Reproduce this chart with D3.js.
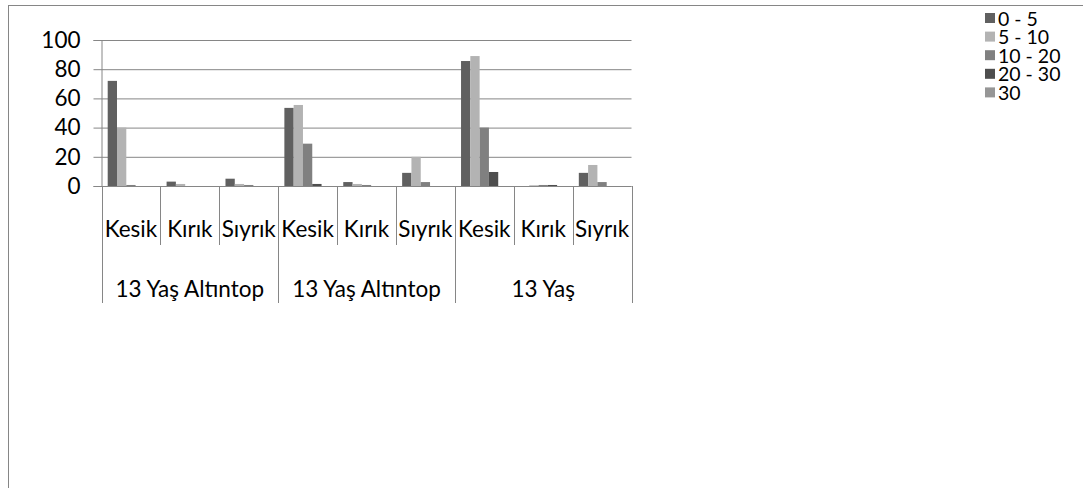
<!DOCTYPE html>
<html>
<head>
<meta charset="utf-8">
<script src="https://cdn.jsdelivr.net/npm/d3@7"></script>
<style>
  html, body { margin: 0; padding: 0; background: #fff; }
  svg { display: block; font-family: Lato, "Liberation Sans", sans-serif; }
</style>
</head>
<body>
<div id="chart"></div>
<script>
// ─── DATA ───
const groups = ["13 Yaş Altıntop", "13 Yaş Altıntop", "13 Yaş"];
const subCategories = ["Kesik", "Kırık", "Sıyrık"];
const seriesNames = ["0 - 5", "5 - 10", "10 - 20", "20 - 30", "30"];
const s0to5   = [72, 3, 5, 53.5, 2.7, 9, 85.6, 0, 9];
const s5to10  = [40, 1.4, 1.4, 55.5, 1.4, 20, 89, 0.5, 14.4];
const s10to20 = [0.7, 0, 0.7, 29, 0.7, 2.7, 40, 0.7, 2.7];
const s20to30 = [0, 0, 0, 1.4, 0, 0, 9.6, 0.7, 0];
const s30     = [0, 0, 0, 0, 0, 0, 0, 0, 0];
const yTicks = [0, 20, 40, 60, 80, 100];

const seriesValues = [s0to5, s5to10, s10to20, s20to30, s30];
const colors = ["#606060", "#b3b3b3", "#808080", "#4e4e4e", "#969696"];

// ─── LAYOUT ───
const width = 1083, height = 488;
const margin = { top: 40, left: 101.5, right: 631.5, bottom: 186 };
const axisColor = "#868686";
const labelSize = 22.5;

const svg = d3.select("#chart").append("svg")
    .attr("width", width)
    .attr("height", height);

// outer chart border (runs off the right/bottom edge)
svg.append("rect")
    .attr("x", 8.5).attr("y", 5.5)
    .attr("width", 1200).attr("height", 600)
    .attr("fill", "none")
    .attr("stroke", axisColor);

// flat list of categories (group x sub)
const cats = [];
groups.forEach((g, gi) => subCategories.forEach((s, si) => cats.push({ g, gi, s, i: gi * 3 + si })));

const x = d3.scaleBand()
    .domain(cats.map(d => d.i))
    .range([margin.left, margin.right])
    .padding(0);

const xs = d3.scaleBand()
    .domain(seriesNames)
    .range([0, x.bandwidth()])
    .paddingInner(0)
    .paddingOuter(0.667);

const y = d3.scaleLinear()
    .domain([0, 100])
    .range([margin.bottom, margin.top]);

// grid + y axis
svg.append("g")
    .attr("transform", `translate(${margin.left},0)`)
    .call(d3.axisLeft(y).tickValues(yTicks).tickSize(8).tickPadding(13))
    .call(g => g.select(".domain").attr("stroke", axisColor))
    .call(g => g.selectAll(".tick line").attr("stroke", axisColor)
        .attr("x2", margin.right - margin.left))
    .call(g => g.selectAll(".tick line").attr("x1", -8))
    .call(g => g.selectAll(".tick text")
        .attr("font-size", labelSize)
        .attr("fill", "#000")
        .attr("font-family", "Lato, sans-serif"));

// bars
seriesNames.forEach((name, si) => {
    svg.append("g").selectAll("rect")
        .data(seriesValues[si].map((v, i) => ({ v, i })).filter(d => d.v > 0))
        .join("rect")
        .attr("x", d => x(d.i) + xs(name))
        .attr("width", xs.bandwidth())
        .attr("y", d => y(d.v))
        .attr("height", d => y(0) - y(d.v))
        .attr("fill", colors[si]);
});

// x axis line
const xAxis = svg.append("g").attr("stroke", axisColor);
xAxis.append("line")
    .attr("x1", margin.left).attr("x2", margin.right)
    .attr("y1", y(0) + 0.5).attr("y2", y(0) + 0.5);

// category separators: short for sub, long for group boundaries
d3.range(cats.length + 1).forEach(k => {
    const xp = Math.round(k < cats.length ? x(k) : margin.right) + 0.5;
    const long = k % 3 === 0;
    xAxis.append("line")
        .attr("x1", xp).attr("x2", xp)
        .attr("y1", y(0)).attr("y2", long ? 303 : 245);
});

// sub-category labels
svg.append("g").selectAll("text")
    .data(cats)
    .join("text")
    .attr("x", d => x(d.i) + x.bandwidth() / 2)
    .attr("y", 228)
    .attr("text-anchor", "middle")
    .attr("dominant-baseline", "central")
    .attr("font-size", labelSize)
    .text(d => d.s);

// group labels
svg.append("g").selectAll("text")
    .data(groups)
    .join("text")
    .attr("x", (d, gi) => x(gi * 3) + x.bandwidth() * 1.5)
    .attr("y", 288)
    .attr("text-anchor", "middle")
    .attr("dominant-baseline", "central")
    .attr("font-size", labelSize)
    .text(d => d);

// legend
const legend = svg.append("g").attr("transform", "translate(985,12)");
const li = legend.selectAll("g")
    .data(seriesNames)
    .join("g")
    .attr("transform", (d, i) => `translate(0,${i * 18.6})`);
li.append("rect")
    .attr("width", 10).attr("height", 10)
    .attr("y", 1)
    .attr("fill", (d, i) => colors[i]);
li.append("text")
    .attr("x", 13).attr("y", 6)
    .attr("dominant-baseline", "central")
    .attr("font-size", 19.5)
    .text(d => d);
</script>
</body>
</html>
